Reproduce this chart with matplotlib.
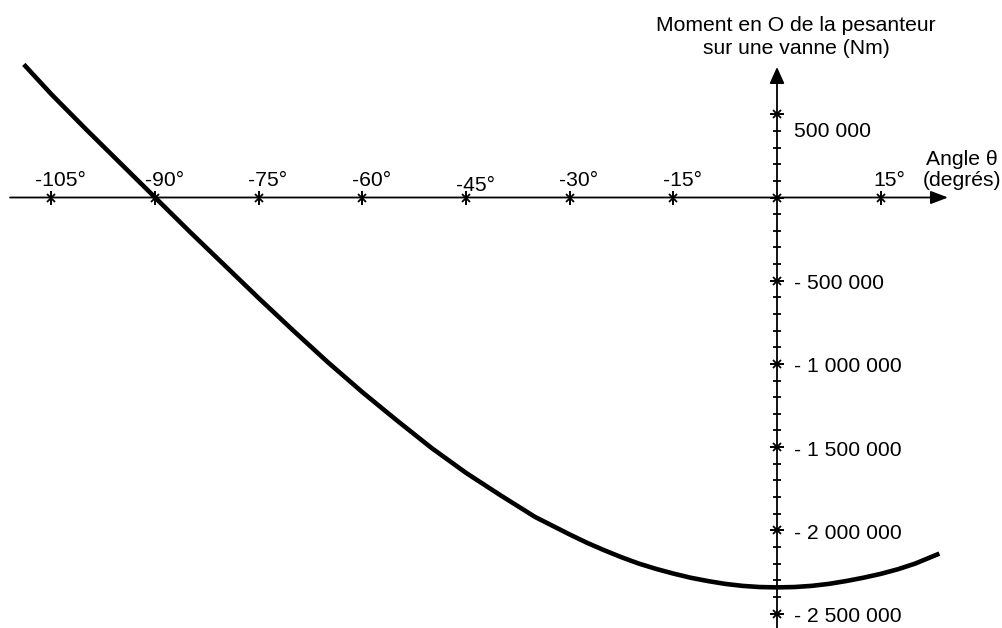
import matplotlib
matplotlib.use("Agg")
import matplotlib.pyplot as plt
import numpy as np

plt.rcParams['font.family'] = ['Liberation Sans', 'DejaVu Sans']

# ---- data ----
angle_deg = [-109, -105, -100, -95, -90, -85, -80, -75, -70, -65, -60, -55,
             -50, -45, -40, -35, -30, -27.5, -25, -22.5, -20, -17.5, -15,
             -12.5, -10, -7.5, -5, -2.5, 0, 2.5, 5, 7.5, 10, 12.5, 15, 17.5,
             20, 23.5]
moment_nm = [800000, 620000, 410000, 205000, 0, -205000, -405000, -605000,
             -800000, -990000, -1170000, -1340000, -1505000, -1655000,
             -1790000, -1920000, -2025000, -2075000, -2120000, -2162000,
             -2200000, -2232000, -2260000, -2285000, -2305000, -2322000,
             -2334000, -2341000, -2343000, -2341000, -2334000, -2322000,
             -2305000, -2285000, -2262000, -2234000, -2200000, -2140000]

x_ticks = [-105, -90, -75, -60, -45, -30, -15, 15]
x_tick_labels = ['-105°', '-90°', '-75°', '-60°', '-45°', '-30°', '-15°', '15°']
y_major = [500000, 0, -500000, -1000000, -1500000, -2000000, -2500000]
y_major_labels = {500000: '500 000', -500000: '- 500 000',
                  -1000000: '- 1 000 000', -1500000: '- 1 500 000',
                  -2000000: '- 2 000 000', -2500000: '- 2 500 000'}
y_minor = [v for v in range(400000, -2500000, -100000) if v % 500000 != 0]

title_y = 'Moment en O de la pesanteur\nsur une vanne (Nm)'
title_x = 'Angle θ\n(degrés)'

# ---- figure ----
W, H = 1003, 628
fig = plt.figure(figsize=(W / 100, H / 100), dpi=100)
ax = fig.add_axes([0, 0, 1, 1])
ax.axis('off')

# pixel mapping of the reference
px_per_deg = 6.91
x0_px = 777
y0_px = 197.5
px_per_unit = 83.2 / 500000
ax.set_xlim(-x0_px / px_per_deg, (W - x0_px) / px_per_deg)
ax.set_ylim(-(H - y0_px) / px_per_unit, y0_px / px_per_unit)

xmin, xmax = ax.get_xlim()
ymin, ymax = ax.get_ylim()

# x axis with arrow
x_start = xmin + 10 / px_per_deg
x_tip = xmin + 948 / px_per_deg
ax.annotate('', xy=(x_tip, 0), xytext=(x_start, 0),
            arrowprops=dict(arrowstyle='-|>,head_length=1.05,head_width=0.4',
                            mutation_scale=10, color='black', lw=1.3,
                            shrinkA=0, shrinkB=0))
# y axis with arrow
y_tip = ymax - 67 / px_per_unit
ax.annotate('', xy=(0, y_tip), xytext=(0, ymin),
            arrowprops=dict(arrowstyle='-|>,head_length=1.0,head_width=0.45',
                            mutation_scale=10, color='black', lw=1.3,
                            shrinkA=0, shrinkB=0))

# star-shaped graduation marks: a stroke across the axis plus a small cross
ax.plot(x_ticks, [0] * len(x_ticks), linestyle='none', marker='|',
        markersize=10, mew=1.4, color='black', zorder=3)
ax.plot(x_ticks, [0] * len(x_ticks), linestyle='none', marker='x',
        markersize=6, mew=1.3, color='black', zorder=3)
ax.plot([0] * len(y_major), y_major, linestyle='none', marker='_',
        markersize=10, mew=1.4, color='black', zorder=3)
ax.plot([0] * len(y_major), y_major, linestyle='none', marker='x',
        markersize=6, mew=1.3, color='black', zorder=3)
ax.plot([0] * len(y_minor), y_minor, linestyle='none', marker='_',
        markersize=6, mew=1.3, color='black', zorder=3)

fs = 15.2
for t, lab in zip(x_ticks, x_tick_labels):
    dy = 12 if t == -45 else 17
    ax.annotate(lab, xy=(t, 0), xytext=(9, dy), textcoords='offset pixels',
                ha='center', va='center', fontsize=fs)

for v, lab in y_major_labels.items():
    dy = -17 if v > 0 else -3
    ax.annotate(lab, xy=(0, v), xytext=(17, dy), textcoords='offset pixels',
                ha='left', va='center', fontsize=fs)

# curve
ax.plot(angle_deg, moment_nm, color='black', lw=3.3, solid_capstyle='butt',
        solid_joinstyle='round', zorder=4)

# axis titles
fig.text(796 / W, 1 - 37 / H, title_y, ha='center', va='center',
         fontsize=fs, linespacing=1.3)
fig.text(962 / W, 1 - 170 / H, title_x, ha='center', va='center',
         fontsize=fs, linespacing=1.15)

fig.savefig('out.png', dpi=100)
